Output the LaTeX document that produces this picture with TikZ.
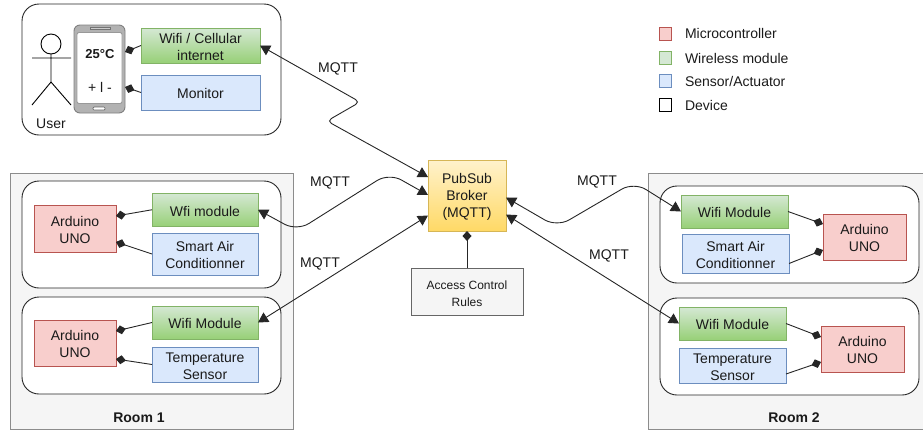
\documentclass[tikz,border=0pt]{standalone}
\usepackage{fontspec}
\setmainfont{Liberation Sans}
\usetikzlibrary{arrows.meta}
\definecolor{redF}{HTML}{F8CECC}\definecolor{redD}{HTML}{B85450}
\definecolor{greenF}{HTML}{D5E8D4}\definecolor{greenB}{HTML}{97D077}\definecolor{greenD}{HTML}{82B366}
\definecolor{blueF}{HTML}{DAE8FC}\definecolor{blueD}{HTML}{6C8EBF}
\definecolor{yelF}{HTML}{FFF2CC}\definecolor{yelB}{HTML}{FFD966}\definecolor{yelD}{HTML}{D6B656}
\definecolor{grayF}{HTML}{F5F5F5}\definecolor{grayD}{HTML}{666666}\definecolor{txt}{HTML}{1A1A1A}
\tikzset{
  base/.style={inner sep=0pt,outer sep=0pt,align=center,text=txt,font=\fontsize{14}{17}\selectfont,line width=.9pt},
  micro/.style={base,draw=redD,fill=redF},
  wireless/.style={base,draw=greenD,top color=greenF,bottom color=greenB},
  sensor/.style={base,draw=blueD,fill=blueF},
  broker/.style={base,draw=yelD,top color=yelF,bottom color=yelB},
  rules/.style={base,draw=grayD,fill=grayF,font=\fontsize{12}{17}\selectfont},
  room/.style={base,draw=black!45,fill=grayF},
  device/.style={base,draw=black!85,fill=white,rounded corners=17pt},
  label/.style={base},
  bold/.style={base,font=\fontsize{14}{17}\selectfont\bfseries},
  link/.style={line width=.9pt,draw=black!85,rounded corners=5pt,{Triangle[length=10pt,width=11pt]}-{Triangle[length=10pt,width=11pt]}},
  softlink/.style={link,rounded corners=14pt},
  dlink/.style={line width=.9pt,draw=black!85,-{Diamond[length=10pt,width=9pt]}},
}
\newcommand{\bx}[7]{%
  \pgfmathsetmacro{\cxv}{(#3+#5)/2}\pgfmathsetmacro{\cyv}{(#4+#6)/2}%
  \pgfmathsetmacro{\wv}{#5-#3}\pgfmathsetmacro{\hv}{#6-#4}%
  \node[#2,minimum width=\wv pt,minimum height=\hv pt] (#1) at (\cxv,\cyv) {\rule{0pt}{13pt}#7};}
\begin{document}
\begin{tikzpicture}[x=1pt,y=-1pt]
\useasboundingbox (0,0) rectangle (923,432);
% rooms
\bx{roomA}{room}{10}{173}{293}{429}{}
\bx{roomB}{room}{648}{173}{930}{429}{}
\node[bold] (roomAl) at (139,417.5) {Room 1};
\node[bold] (roomBl) at (794,417.5) {Room 2};
% device groups
\bx{userbox}{device}{22}{4}{281}{135}{}
\bx{devA}{device}{22}{181}{281}{288}{}
\bx{devB}{device}{22}{297}{281}{394}{}
\bx{devC}{device}{660}{186}{919}{283}{}
\bx{devD}{device}{660}{298}{919}{395}{}
% user
\draw[line width=.9pt,draw=black] (51,44) circle[radius=10];
\draw[line width=.9pt,draw=black] (51,54) -- (51,82) (32,58) -- (71,58) (32,105) -- (51,82) -- (71,105);
\node[label] (user) at (51,123.5) {User};
% phone
\node[base,draw=black!50,fill=black!30,rounded corners=6pt,minimum width=51pt,minimum height=88pt] (phone) at (99.5,69) {};
\node[base,draw=black!40,fill=white,rounded corners=2pt,minimum width=45pt,minimum height=71pt] (screen) at (99.5,68) {};
\draw[line width=.9pt,draw=black!55,fill=black!20] (90,27) rectangle (110,29);
\draw[line width=.7pt,draw=black!60,fill=white,rounded corners=1pt] (93,107) rectangle (105,110);
\node[base,font=\fontsize{13}{17}\selectfont\bfseries] (temp) at (100,54.5) {25°C};
\node[label] (ctl) at (100,87) {+ l -};
% top boxes
\bx{wifiU}{wireless}{141}{28}{260}{63}{Wifi / Cellular\\internet}
\bx{mon}{sensor}{141}{75}{260}{110}{Monitor}
% room 1
\bx{ardA}{micro}{34}{205}{116}{252}{Arduino\\UNO}
\bx{wifiA}{wireless}{152}{193}{258}{226.5}{Wfi module}
\bx{acA}{sensor}{152}{233}{258}{275}{Smart Air\\Conditionner}
\bx{ardB}{micro}{34}{320}{116}{366}{Arduino\\UNO}
\bx{wifiB}{wireless}{152}{306}{258}{339}{Wifi Module}
\bx{tmpB}{sensor}{152}{347}{258}{382}{Temperature\\Sensor}
% room 2
\bx{wifiC}{wireless}{681}{195}{788}{228}{Wifi Module}
\bx{acC}{sensor}{682}{234}{789}{273}{Smart Air\\Conditionner}
\bx{ardC}{micro}{823}{214}{906}{260}{Arduino\\UNO}
\bx{wifiD}{wireless}{679}{307}{786}{340}{Wifi Module}
\bx{tmpD}{sensor}{679}{348}{786}{383}{Temperature\\Sensor}
\bx{ardD}{micro}{821}{326}{904}{372}{Arduino\\UNO}
% centre
\bx{brk}{broker}{428}{160}{506}{231}{PubSub\\Broker\\(MQTT)}
\bx{acl}{rules}{411}{268}{523}{315}{Access Control\\Rules}
% diamond connectors
\draw[dlink] (wifiU.west) -- ([yshift=17pt]phone.east);
\draw[dlink] (mon.west) -- ([yshift=-18pt]phone.east);
\draw[dlink] (wifiA.west) -- ([yshift=12.5pt]ardA.east);
\draw[dlink] (acA.west) -- ([yshift=-13.5pt]ardA.east);
\draw[dlink] (wifiB.west) -- ([yshift=12pt]ardB.east);
\draw[dlink] (tmpB.west) -- ([yshift=-16pt]ardB.east);
\draw[dlink] (wifiC.east) -- ([yshift=13pt]ardC.west);
\draw[dlink] ([yshift=-10pt]acC.east) -- ([yshift=-13pt]ardC.west);
\draw[dlink] (wifiD.east) -- ([yshift=12pt]ardD.west);
\draw[dlink] ([yshift=-8.5pt]tmpD.east) -- ([yshift=-13pt]ardD.west);
\draw[dlink] (acl.north) -- (brk.south);
% MQTT links
\draw[link] (wifiU.east) -- (360,102) -- (327,121) -- ([yshift=18.5pt]brk.west);
\draw[softlink] (wifiA.east) -- (297,231) -- (389,173) -- ([yshift=.5pt]brk.west);
\draw[link] (wifiB.east) -- ([yshift=-20pt]brk.west);
\draw[softlink] (wifiC.west) -- (634,182) -- (557,227) -- ([yshift=-2pt]brk.east);
\draw[link] (wifiD.west) -- ([yshift=-19pt]brk.east);
\node[label] (m1) at (338,69) {MQTT};
\node[label] (m2) at (330,183) {MQTT};
\node[label] (m3) at (320,263.5) {MQTT};
\node[label] (m4) at (597,182) {MQTT};
\node[label] (m5) at (609,256) {MQTT};
% legend
\bx{lgA}{micro}{659.5}{27.5}{671.5}{39.5}{}
\bx{lgB}{base,draw=greenD,fill=greenF}{659.5}{52}{671.5}{64}{}
\bx{lgC}{sensor}{659.5}{75}{671.5}{87}{}
\bx{lgD}{base,draw=black,fill=white}{659.5}{99}{671.5}{111}{}
\node[label,anchor=west] (ltA) at (685,33.5) {Microcontroller};
\node[label,anchor=west] (ltB) at (685,58) {Wireless module};
\node[label,anchor=west] (ltC) at (685,81) {Sensor/Actuator};
\node[label,anchor=west] (ltD) at (685,105) {Device};
\end{tikzpicture}
\end{document}
